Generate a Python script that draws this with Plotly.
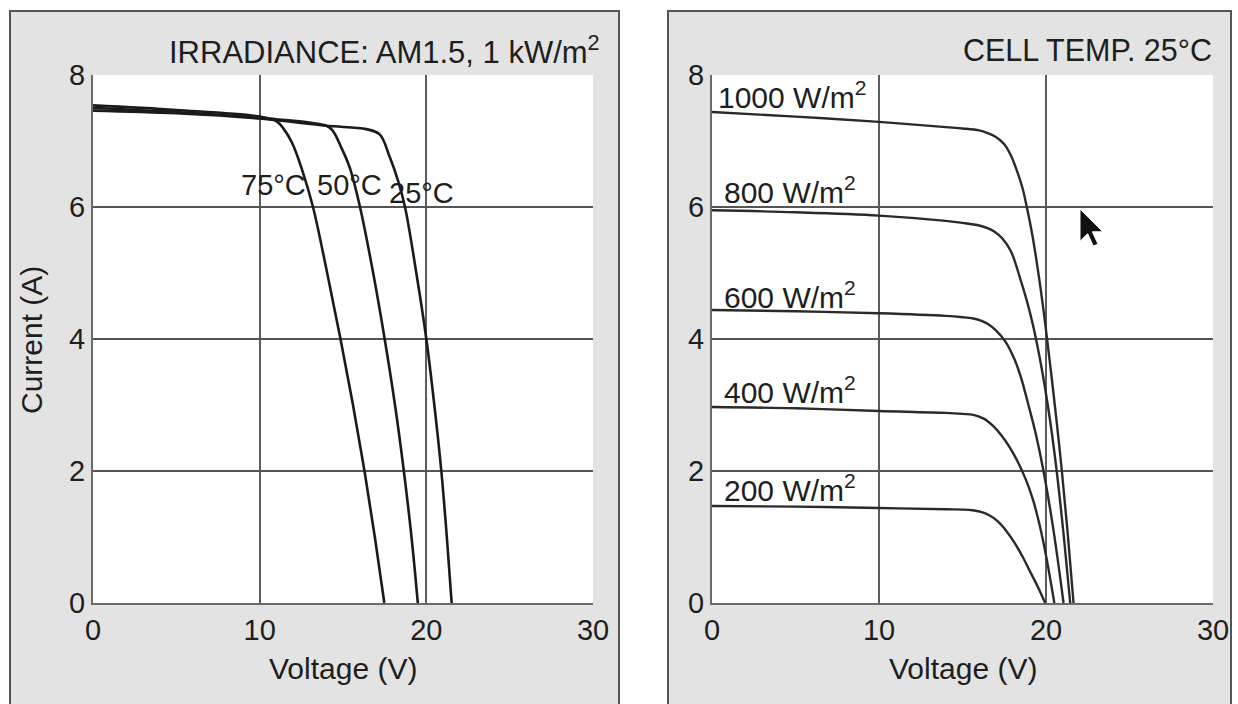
import plotly.graph_objects as go

W, H = 1238, 704

# ---------------- data: left panel (irradiance AM1.5, 1 kW/m2) ----------------
v_25 = [0, 5, 10, 14, 16.4, 17.2, 17.8, 18.3, 18.72, 19.4, 20.0, 20.48, 20.9, 21.23, 21.52]
i_25 = [7.46, 7.42, 7.34, 7.23, 7.18, 7.1, 6.76, 6.4, 6.0, 5.0, 4.0, 3.0, 2.0, 1.0, 0]

v_50 = [0, 5, 10, 14, 14.4, 14.9, 15.4, 16.02, 16.81, 17.5, 18.12, 18.65, 19.11, 19.49]
i_50 = [7.5, 7.44, 7.35, 7.23, 7.15, 6.9, 6.6, 6.0, 5.0, 4.0, 3.0, 2.0, 1.0, 0]

v_75 = [0, 5, 10, 11, 11.45, 11.95, 12.55, 13.2, 14.05, 14.85, 15.6, 16.29, 16.91, 17.48]
i_75 = [7.54, 7.47, 7.37, 7.3, 7.18, 6.97, 6.56, 6.0, 5.0, 4.0, 3.0, 2.0, 1.0, 0]

temp_labels = ["75°C", "50°C", "25°C"]
temp_label_v = [10.8, 15.4, 19.7]
temp_label_i = [6.33, 6.33, 6.21]

# ---------------- data: right panel (cell temp 25 C) ----------------
v_1000 = [0, 5, 10, 14, 15, 16, 16.5, 17.0, 17.5, 17.9, 18.3, 18.6, 18.85, 19.2, 19.6, 19.95, 20.3, 20.65, 20.95, 21.3, 21.65]
i_1000 = [7.44, 7.37, 7.29, 7.21, 7.19, 7.16, 7.12, 7.06, 6.95, 6.78, 6.52, 6.28, 6.0, 5.55, 4.9, 4.24, 3.5, 2.72, 2.0, 1.05, 0]

v_800 = [0, 5, 10, 14, 15, 16, 16.5, 16.9, 17.4, 17.9, 18.45, 18.83, 19.23, 19.78, 20.27, 20.64, 21.07, 21.45]
i_800 = [5.95, 5.92, 5.87, 5.79, 5.76, 5.72, 5.68, 5.63, 5.52, 5.33, 4.92, 4.6, 4.2, 3.5, 2.72, 2.0, 1.0, 0]

v_600 = [0, 5, 10, 14, 15, 15.65, 16.1, 16.5, 17.0, 17.6, 18.1, 18.5, 19.0, 19.4, 19.85, 20.45, 21.05]
i_600 = [4.44, 4.42, 4.39, 4.35, 4.33, 4.31, 4.28, 4.23, 4.13, 3.95, 3.7, 3.42, 2.95, 2.55, 2.0, 1.1, 0]

v_400 = [0, 5, 10, 14, 15, 15.65, 16.3, 16.8, 17.3, 17.8, 18.3, 18.8, 19.2, 19.6, 20.0, 20.5]
i_400 = [2.97, 2.95, 2.91, 2.88, 2.865, 2.85, 2.79, 2.69, 2.55, 2.37, 2.145, 1.865, 1.58, 1.2, 0.72, 0]

v_200 = [0, 5, 10, 14, 15, 15.6, 16.1, 16.6, 17.1, 17.6, 18.1, 18.6, 19.0, 19.5, 19.95]
i_200 = [1.47, 1.46, 1.44, 1.42, 1.415, 1.405, 1.38, 1.33, 1.24, 1.1, 0.92, 0.7, 0.5, 0.25, 0]

irr_labels = ["1000 W/m<sup>2</sup>", "800 W/m<sup>2</sup>", "600 W/m<sup>2</sup>",
              "400 W/m<sup>2</sup>", "200 W/m<sup>2</sup>"]
irr_label_v = [0.25, 0.6, 0.6, 0.6, 0.6]
irr_label_i = [7.70, 6.26, 4.67, 3.23, 1.74]

x_ticks = [0, 10, 20, 30]
y_ticks = [0, 2, 4, 6, 8]
x_titles = ["Voltage (V)", "Voltage (V)"]
y_title = "Current (A)"
panel_titles = ["IRRADIANCE: AM1.5, 1 kW/m<sup>2</sup>", "CELL TEMP. 25°C"]

# ---------------- layout helpers (pixel -> paper) ----------------
def px(x):
    return x / W

def py(y):
    return 1 - y / H

FONT = "Liberation Sans, Arial, Helvetica, sans-serif"
TXT = "#1e1e1e"

fig = go.Figure()

left_curves = [(v_25, i_25), (v_50, i_50), (v_75, i_75)]
for v, i in left_curves:
    fig.add_trace(go.Scatter(x=v, y=i, mode="lines", xaxis="x", yaxis="y",
                             line=dict(color="#1a1a1a", width=2.6, shape="spline", smoothing=1.0),
                             showlegend=False, hoverinfo="skip"))

right_curves = [(v_1000, i_1000), (v_800, i_800), (v_600, i_600), (v_400, i_400), (v_200, i_200)]
for v, i in right_curves:
    fig.add_trace(go.Scatter(x=v, y=i, mode="lines", xaxis="x2", yaxis="y2",
                             line=dict(color="#2a2a2a", width=2.4, shape="spline", smoothing=1.0),
                             showlegend=False, hoverinfo="skip"))

# plot area extents in pixels
L1, R1 = 93, 593
L2, R2 = 712, 1213
TOP, BOT = 75, 603

def xaxis_cfg(l, r, anchor):
    return dict(domain=[px(l), px(r)], range=[0, 30], tickvals=x_ticks, ticktext=[str(t) for t in x_ticks],
                showgrid=False, zeroline=False, showline=True, linecolor="#6a6a6a", linewidth=2,
                ticks="", ticklabelstandoff=0, tickfont=dict(family=FONT, size=29, color=TXT),
                minor=dict(tickvals=[10, 20], showgrid=True, gridcolor="#5c5c5c", gridwidth=1.6, ticks=""),
                anchor=anchor, fixedrange=True, automargin=False)

def yaxis_cfg(anchor):
    return dict(domain=[py(BOT), py(TOP)], range=[0, 8], tickvals=y_ticks, ticktext=[str(t) for t in y_ticks],
                showgrid=False, zeroline=False, showline=True, linecolor="#6a6a6a", linewidth=2,
                ticks="", ticklabelstandoff=0, tickfont=dict(family=FONT, size=29, color=TXT),
                minor=dict(tickvals=[2, 4, 6, 8], showgrid=True, gridcolor="#555555", gridwidth=1.8, ticks=""),
                anchor=anchor, fixedrange=True, automargin=False)

shapes = []
# gray panel frames
for (l, r) in [(10, 619), (668, 1231)]:
    shapes.append(dict(type="rect", xref="paper", yref="paper", x0=px(l), x1=px(r), y0=-0.02, y1=py(11),
                       fillcolor="#e3e3e3", line=dict(color="#555555", width=2), layer="below"))
# white plotting areas
for (l, r) in [(L1, R1), (L2, R2)]:
    shapes.append(dict(type="rect", xref="paper", yref="paper", x0=px(l), x1=px(r), y0=py(BOT), y1=py(TOP),
                       fillcolor="#ffffff", line=dict(width=0), layer="below"))

# mouse-pointer artefact visible in the scanned figure (right panel)
cx, cy, s = 1080, 209, 1.9
pts = [(0, 0), (0, 17), (4, 13), (7, 19.5), (9.5, 18.5), (6.5, 12), (12, 12)]
path = "M " + " L ".join(f"{px(cx + a * s):.5f},{py(cy + b * s):.5f}" for a, b in pts) + " Z"
shapes.append(dict(type="path", xref="paper", yref="paper", path=path,
                   fillcolor="#111111", line=dict(color="#ffffff", width=1), layer="above"))

annotations = []
# panel titles
annotations.append(dict(text=panel_titles[0], xref="paper", yref="paper", x=px(602), y=py(50),
                        xanchor="right", yanchor="middle", showarrow=False,
                        font=dict(family=FONT, size=31, color=TXT)))
annotations.append(dict(text=panel_titles[1], xref="paper", yref="paper", x=px(1214), y=py(50),
                        xanchor="right", yanchor="middle", showarrow=False,
                        font=dict(family=FONT, size=30.5, color=TXT)))
# axis titles
annotations.append(dict(text=x_titles[0], xref="paper", yref="paper", x=px((L1 + R1) / 2), y=py(668),
                        xanchor="center", yanchor="middle", showarrow=False,
                        font=dict(family=FONT, size=30, color=TXT)))
annotations.append(dict(text=x_titles[1], xref="paper", yref="paper", x=px((L2 + R2) / 2), y=py(668),
                        xanchor="center", yanchor="middle", showarrow=False,
                        font=dict(family=FONT, size=30, color=TXT)))
annotations.append(dict(text=y_title, xref="paper", yref="paper", x=px(31), y=py(340),
                        xanchor="center", yanchor="middle", textangle=-90, showarrow=False,
                        font=dict(family=FONT, size=30, color=TXT)))
# curve labels
for t, v, i in zip(temp_labels, temp_label_v, temp_label_i):
    annotations.append(dict(text=t, xref="x", yref="y", x=v, y=i, xanchor="center", yanchor="middle",
                            showarrow=False, font=dict(family=FONT, size=29, color=TXT)))
for t, v, i in zip(irr_labels, irr_label_v, irr_label_i):
    annotations.append(dict(text=t, xref="x2", yref="y2", x=v, y=i, xanchor="left", yanchor="middle",
                            showarrow=False, font=dict(family=FONT, size=30, color=TXT)))

fig.update_layout(
    width=W, height=H,
    margin=dict(l=0, r=0, t=0, b=0, pad=0, autoexpand=False),
    paper_bgcolor="#ffffff", plot_bgcolor="#ffffff",
    xaxis=xaxis_cfg(L1, R1, "y"), yaxis=yaxis_cfg("x"),
    xaxis2=xaxis_cfg(L2, R2, "y2"), yaxis2=yaxis_cfg("x2"),
    shapes=shapes, annotations=annotations,
    showlegend=False,
)

fig.write_html("out.html", config={"displayModeBar": False},
               post_script="document.body.style.margin='0px';")
